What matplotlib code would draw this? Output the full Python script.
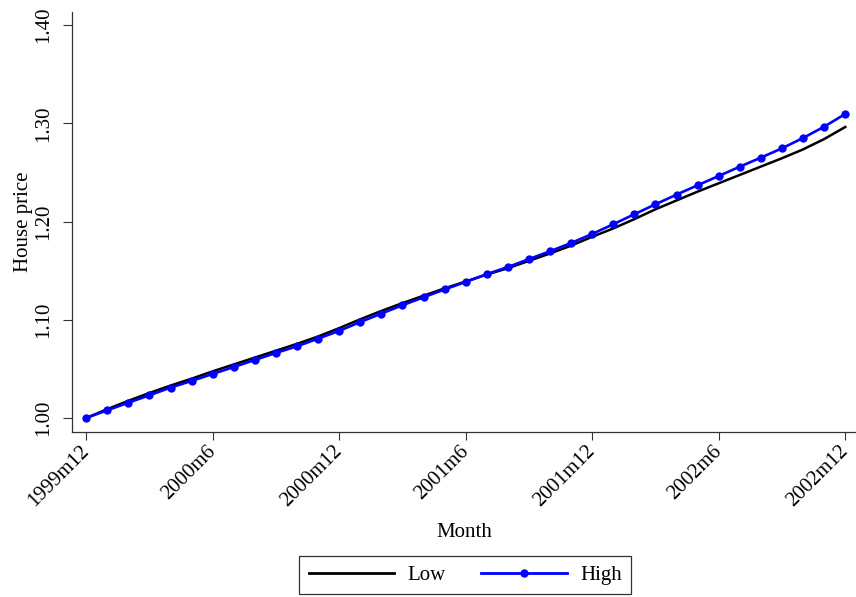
import matplotlib
matplotlib.use("Agg")
import matplotlib.pyplot as plt
from matplotlib.lines import Line2D

# Monthly house price index, 1999m12 = 1.00
month_index = list(range(37))
tick_positions = [0, 6, 12, 18, 24, 30, 36]
tick_labels = ["1999m12", "2000m6", "2000m12", "2001m6", "2001m12", "2002m6", "2002m12"]

low = [1.000, 1.009, 1.0175, 1.0255, 1.033, 1.040, 1.0475, 1.0545, 1.0615, 1.0685,
       1.0755, 1.083, 1.0915, 1.1005, 1.109, 1.117, 1.1245, 1.132, 1.139, 1.146,
       1.1525, 1.160, 1.1675, 1.1755, 1.1845, 1.193, 1.2025, 1.2125, 1.2215, 1.2305,
       1.239, 1.2475, 1.256, 1.2645, 1.2735, 1.284, 1.2963]

high = [1.000, 1.0078, 1.0156, 1.0231, 1.0309, 1.0377, 1.0448, 1.0519, 1.0591, 1.0662,
        1.0730, 1.0808, 1.0887, 1.0977, 1.1063, 1.1148, 1.1229, 1.1309, 1.1385, 1.1465,
        1.1537, 1.1618, 1.1698, 1.1782, 1.1874, 1.1973, 1.2075, 1.2176, 1.2274, 1.2370,
        1.2464, 1.2559, 1.2651, 1.2746, 1.2851, 1.2966, 1.3096]

y_ticks = [1.00, 1.10, 1.20, 1.30, 1.40]

plt.rcParams["font.family"] = ["Liberation Serif", "DejaVu Serif"]
plt.rcParams["font.size"] = 15

fig = plt.figure(figsize=(8.56, 5.97), dpi=100)
ax = fig.add_axes([0.0845, 0.2759, 0.9155, 0.7045])

ax.plot(month_index, low, color="black", lw=1.8, zorder=2)
ax.plot(month_index, high, color="#0000ff", lw=1.9, marker="o", ms=6,
        markeredgewidth=0, zorder=3)

ax.set_xlim(-0.66, 36.51)
ax.set_ylim(0.9854, 1.4137)

ax.set_xticks(tick_positions)
ax.set_xticklabels(tick_labels, rotation=45, ha="right", va="center",
                   rotation_mode="anchor")
ax.set_yticks(y_ticks)
ax.set_yticklabels([f"{v:.2f}" for v in y_ticks], rotation=90, va="center")

for side in ("top", "right"):
    ax.spines[side].set_visible(False)
for side in ("left", "bottom"):
    ax.spines[side].set_color("#333333")
    ax.spines[side].set_linewidth(0.9)

ax.tick_params(axis="y", length=6.5, width=0.8, color="#333333", pad=7)
ax.tick_params(axis="x", length=5.8, width=0.8, color="#333333", pad=6)

ax.set_xlabel("Month", labelpad=9)
ax.set_ylabel("House price", labelpad=1)

handles = [
    Line2D([], [], color="black", lw=2.0),
    Line2D([], [], color="#0000ff", lw=2.0, marker="o", ms=6, markeredgewidth=0),
]
leg = fig.legend(handles, ["Low", "High"], loc="center",
                 bbox_to_anchor=(465.4 / 856, 22 / 597), ncol=2,
                 handlelength=4.1, handletextpad=0.65, columnspacing=1.7,
                 borderpad=0.45, fancybox=False, framealpha=1, frameon=True)
leg.get_frame().set_edgecolor("#333333")
leg.get_frame().set_linewidth(0.9)

fig.savefig("out.png", dpi=100)
